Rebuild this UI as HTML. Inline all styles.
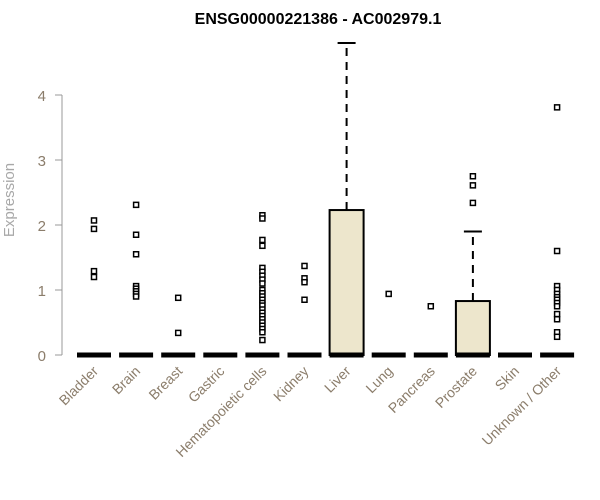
<!DOCTYPE html>
<html><head><meta charset="utf-8"><style>body{margin:0;background:#fff}svg{display:block}</style></head>
<body>
<svg id="chart" width="600" height="500" xmlns="http://www.w3.org/2000/svg" font-family="Liberation Sans, sans-serif">
<text x="318" y="24" text-anchor="middle" font-weight="bold" font-size="16">ENSG00000221386 - AC002979.1</text>
<text transform="translate(14,200) rotate(-90)" text-anchor="middle" font-size="15" fill="#a8a8a8">Expression</text>
<g id="axes"></g><g id="marks"></g>
</svg>
<script>
const categories=["Bladder","Brain","Breast","Gastric","Hematopoietic cells","Kidney","Liver","Lung","Pancreas","Prostate","Skin","Unknown / Other"];
const medians=[0,0,0,0,0,0,0,0,0,0,0,0];
const q1=[0,0,0,0,0,0,0,0,0,0,0,0];
const q3=[0,0,0,0,0,0,2.23,0,0,0.83,0,0];
const whiskerHigh=[0,0,0,0,0,0,4.8,0,0,1.9,0,0];
const outliers=[[2.07,1.94,1.29,1.2],[2.31,1.85,1.55,1.06,1.02,0.98,0.94,0.9],[0.88,0.34],[],
[2.15,2.1,1.77,1.68,1.34,1.28,1.22,1.16,1.1,1.0,0.95,0.9,0.85,0.8,0.76,0.7,0.65,0.6,0.55,0.5,0.45,0.4,0.35,0.23],
[1.37,1.18,1.12,0.85],[],[0.94],[0.75],[2.75,2.61,2.34],[],
[3.81,1.6,1.06,1.0,0.94,0.89,0.85,0.8,0.75,0.63,0.55,0.35,0.28]];
const yTicks=[0,1,2,3,4];
const NS="http://www.w3.org/2000/svg";
const y=v=>355-v*65, x=i=>94+i*42.1;
function mk(p,t,a){const e=document.createElementNS(NS,t);for(const k in a)e.setAttribute(k,a[k]);p.appendChild(e);return e;}
const ax=document.getElementById('axes'),mg=document.getElementById('marks');
const yl=mk(ax,'line',{x1:62,x2:62,y1:y(4),y2:y(0),stroke:'#999'});


yTicks.forEach(t=>{
 const l=mk(ax,'line',{x1:55,x2:62,y1:y(t),y2:y(t),stroke:'#999'});
 
 
 const tx=mk(ax,'text',{x:46,y:y(t)+6,'text-anchor':'end','font-size':15,fill:'#8b7d6b'});
 tx.textContent=t;
 
 
});
categories.forEach((c,i)=>{
 const cx=x(i);
 const tx=mk(ax,'text',{transform:`translate(${cx+5},372) rotate(-45)`,'text-anchor':'end','font-size':14,fill:'#8b7d6b'});
 tx.textContent=c;
 
 
 const g=mk(mg,'g',{});
 
 
 if(whiskerHigh[i]>q3[i]){
  mk(g,'line',{x1:cx,x2:cx,y1:y(q3[i]),y2:y(whiskerHigh[i]),stroke:'#000','stroke-width':2,'stroke-dasharray':'8,6'});
  mk(g,'line',{x1:cx-9,x2:cx+9,y1:y(whiskerHigh[i]),y2:y(whiskerHigh[i]),stroke:'#000','stroke-width':2});
 }
 if(q3[i]>q1[i]) mk(g,'rect',{x:cx-17,y:y(q3[i]),width:34,height:y(q1[i])-y(q3[i]),fill:'#ede6cc',stroke:'#000','stroke-width':2});
 mk(g,'line',{x1:cx-17,x2:cx+17,y1:y(medians[i]),y2:y(medians[i]),stroke:'#000','stroke-width':5});
 outliers[i].forEach(v=>{
  const r=mk(g,'rect',{x:cx-2.5,y:y(v)-2.5,width:5,height:5,fill:'#fff',stroke:'#000','stroke-width':1.5});
  
  
 });
});
</script>
</body></html>
